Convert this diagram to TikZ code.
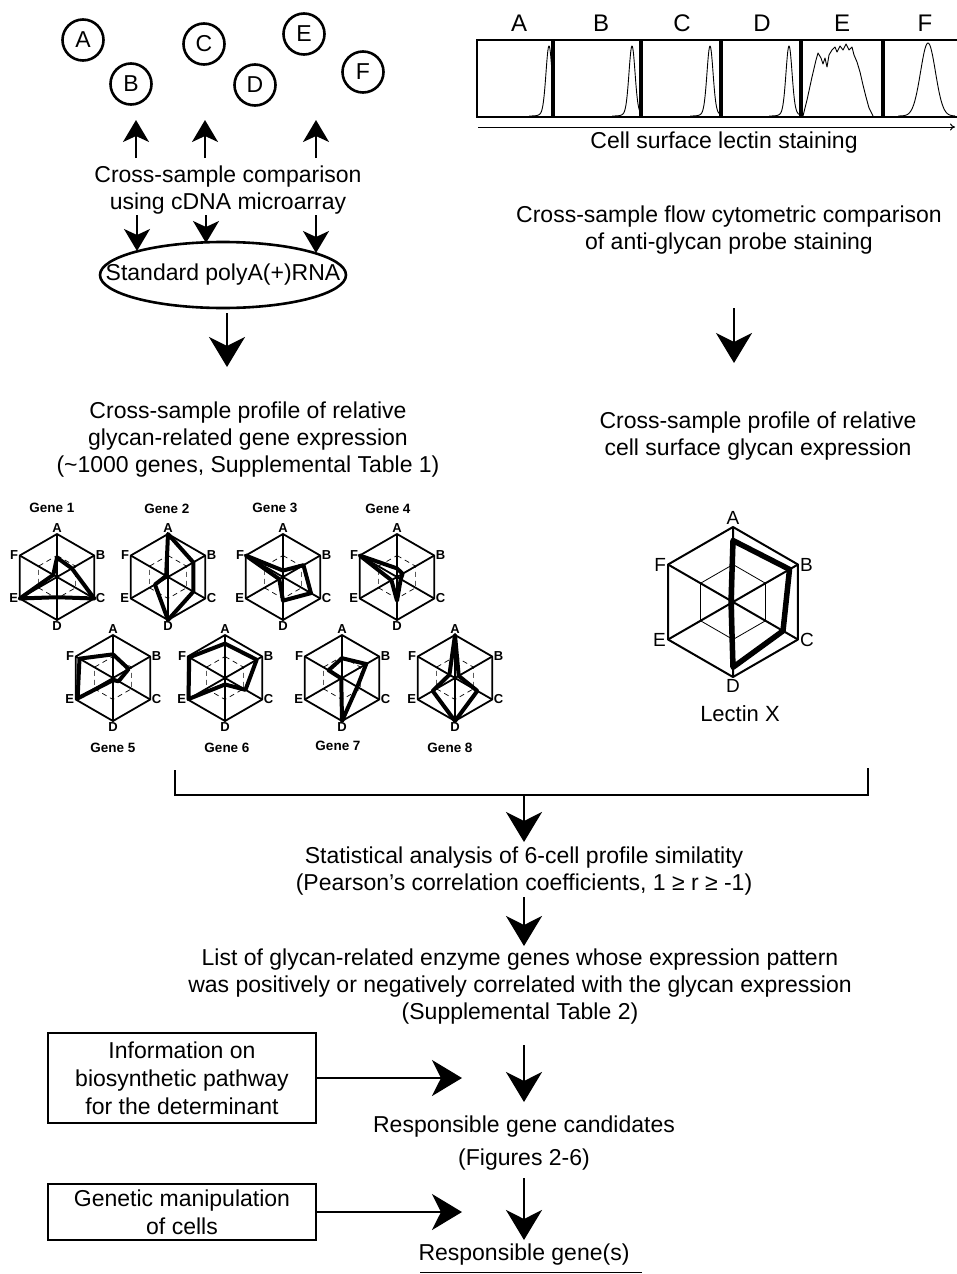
\documentclass[tikz,border=0pt]{standalone}
\usepackage{fontspec}
\setmainfont{Liberation Sans}
\usetikzlibrary{arrows.meta,shapes.geometric}
\newcommand\fsz[2]{\fontsize{#1}{#2}\selectfont}
\def\rr{43}
\tikzset{
  txt/.style={align=center, font=\fsz{23}{27}, inner sep=0pt},
  circ/.style={draw, circle, line width=2.6pt, minimum size=41pt, inner sep=0pt, font=\fsz{23}{26}},
  bigarr/.style={line width=2pt, -{Stealth[length=30pt,width=36pt,inset=9pt]}},
  smallarr/.style={line width=2pt, -{Stealth[length=22pt,width=26pt,inset=6pt]}},
  hexln/.style={line width=1.8pt, line join=round},
  innerhex/.style={line width=0.7pt, dash pattern=on 5pt off 4pt},
  dataln/.style={line width=4pt, line join=round},
  vlab/.style={font=\bfseries\fsz{13}{13}, inner sep=1.5pt},
  genelab/.style={font=\bfseries\fsz{13.5}{13.5}, inner sep=0pt},
  boxst/.style={draw, line width=2.4pt, align=center, font=\fsz{23}{28}, minimum width=268pt, inner sep=0pt},
  hist/.style={line width=0.9pt, line join=round},
  histlab/.style={font=\fsz{24}{24}, inner sep=0pt},
}
% #1 name, #2 x, #3 y, #4..#9 values for A..F
\newcommand\radar[9]{%
  \begin{scope}[shift={(#2,-#3)}]
    \draw[innerhex] (90:{\rr/2}) -- (30:{\rr/2}) -- (-30:{\rr/2}) -- (-90:{\rr/2}) -- (210:{\rr/2}) -- (150:{\rr/2}) -- cycle;
    \draw[hexln] (90:\rr) -- (30:\rr) -- (-30:\rr) -- (-90:\rr) -- (210:\rr) -- (150:\rr) -- cycle;
    \draw[hexln] (90:\rr) -- (-90:\rr) (30:\rr) -- (210:\rr) (-30:\rr) -- (150:\rr);
    \draw[dataln] (90:{#4*\rr}) -- (30:{#5*\rr}) -- (-30:{#6*\rr}) -- (-90:{#7*\rr}) -- (210:{#8*\rr}) -- (150:{#9*\rr}) -- cycle;
    \node[vlab, anchor=south] (#1A) at (90:\rr) {A};
    \node[vlab, anchor=west] (#1B) at (30:\rr) {B};
    \node[vlab, anchor=west] (#1C) at (-30:\rr) {C};
    \node[vlab, anchor=north] (#1D) at (-90:\rr) {D};
    \node[vlab, anchor=east] (#1E) at (210:\rr) {E};
    \node[vlab, anchor=east] (#1F) at (150:\rr) {F};
  \end{scope}}
\begin{document}
\begin{tikzpicture}[x=1pt,y=1pt]
\fill[white] (0,0) rectangle (956,-1274);
\useasboundingbox (0,0) rectangle (956,-1274);

% ---------- top left: samples ----------
\node[circ] (cA) at (83,-40) {A};
\node[circ] (cB) at (131,-84) {B};
\node[circ] (cC) at (204,-44) {C};
\node[circ] (cD) at (255,-85) {D};
\node[circ] (cE) at (304,-34) {E};
\node[circ] (cF) at (363,-72) {F};

\foreach \i/\xx in {1/136,2/205,3/316}{
  \coordinate (up\i s) at (\xx,-158);
  \coordinate (up\i e) at (\xx,-120);
  \draw[smallarr] (up\i s) -- (up\i e);
}
\node[txt] (cmp) at (228,-190) {Cross-sample comparison\\using cDNA microarray};
\foreach \i/\xx/\yy in {1/137/251,2/206/243,3/316/253}{
  \coordinate (dn\i s) at (\xx,-215);
  \coordinate (dn\i e) at (\xx,-\yy);
  \draw[smallarr] (dn\i s) -- (dn\i e);
}
\node[txt] (ell) at (223,-275) {Standard polyA(+)RNA};
\draw[line width=2.6pt] (ell.center) ellipse [x radius=123, y radius=33];
\coordinate (e1s) at (227,-313);
\coordinate (e1e) at (227,-367);
\draw[bigarr] (e1s) -- (e1e);
\node[txt] (prof1) at (248,-440) {Cross-sample profile of relative\\glycan-related gene expression\\(\textasciitilde1000 genes, Supplemental Table 1)};

% ---------- small radar charts ----------
\def\rr{43}
\radar{g1}{57}{577}{0.45}{0.4}{1.0}{0.47}{1.0}{0.1}
\radar{g2}{168}{577}{1.0}{0.68}{0.68}{1.0}{0.35}{0.05}
\radar{g3}{283}{577}{0.15}{0.55}{0.75}{0.55}{0.1}{1.0}
\radar{g4}{397}{577}{0.2}{0.15}{0.1}{0.55}{0.15}{1.0}
\radar{g5}{113}{678}{0.55}{0.42}{0.15}{0.05}{0.95}{0.9}
\radar{g6}{225}{678}{0.8}{0.85}{0.55}{0.15}{0.98}{0.96}
\radar{g7}{342}{678}{0.46}{0.65}{0.41}{1.0}{0.02}{0.36}
\radar{g8}{455}{678}{1.0}{0.1}{0.6}{1.0}{0.6}{0.15}
\node[genelab] (n1) at (52,-508) {Gene 1};
\node[genelab] (n2) at (167,-509) {Gene 2};
\node[genelab] (n3) at (275,-508) {Gene 3};
\node[genelab] (n4) at (388,-509) {Gene 4};
\node[genelab] (n5) at (113,-748) {Gene 5};
\node[genelab] (n6) at (227,-748) {Gene 6};
\node[genelab] (n7) at (338,-746) {Gene 7};
\node[genelab] (n8) at (450,-748) {Gene 8};

% ---------- top right: flow cytometry ----------
\node[histlab] (hA) at (519,-23) {A};
\node[histlab] (hB) at (601,-23) {B};
\node[histlab] (hC) at (682,-23) {C};
\node[histlab] (hD) at (762,-23) {D};
\node[histlab] (hE) at (842,-23) {E};
\node[histlab] (hF) at (925,-23) {F};
\draw[line width=2pt] (957,-40) -- (477,-40) -- (477,-117) -- (957,-117);
\foreach \xx in {553,641,721,801,883} \draw[line width=3.5pt] (\xx,-40) -- (\xx,-117);
\foreach \mu/\lo/\hi in {549/529/552,632/612/640,710/690/719,789/769/799}
  \draw[hist] plot[domain=\lo:\hi, samples=70, smooth] (\x, {-116+64*exp(-((\x-\mu)/4.2)^2)+6*exp(-((\x-\mu-0.5)/8)^2)});
\draw[hist] (803,-116) -- (807,-100) -- (812,-77) -- (816,-60) -- (818,-53) -- (821,-58) -- (823,-64) -- (825,-58) -- (827,-67) -- (829,-55) -- (832,-50) -- (835,-47) -- (837,-52) -- (840,-46) -- (843,-50) -- (846,-44) -- (849,-50) -- (852,-47) -- (854,-55) -- (857,-62) -- (860,-72) -- (863,-85) -- (866,-97) -- (869,-108) -- (873,-116);
\draw[hist] plot[domain=898:955, samples=80, smooth] (\x, {-116+73*exp(-((\x-928)/10.5)^2)});
\coordinate (axs) at (478,-127);
\coordinate (axe) at (955,-127);
\draw[line width=1pt, -{To[length=5pt,width=7pt]}] (axs) -- (axe);
\node[txt] (cell) at (724,-143) {Cell surface lectin staining};
\node[txt] (flow) at (729,-230) {Cross-sample flow cytometric comparison\\of anti-glycan probe staining};
\coordinate (r1s) at (734,-308);
\coordinate (r1e) at (734,-363);
\draw[bigarr] (r1s) -- (r1e);
\node[txt] (prof2) at (758,-436) {Cross-sample profile of relative\\cell surface glycan expression};

% ---------- big radar ----------
\begin{scope}[hexln/.style={line width=2pt, line join=round},
  innerhex/.style={line width=0.8pt},
  dataln/.style={line width=5.5pt, line join=round},
  vlab/.style={font=\fsz{19}{19}, inner sep=2pt}]
\def\rr{75}
\radar{lx}{733}{602}{0.82}{0.87}{0.77}{0.87}{0.03}{0.03}
\end{scope}
\node[font=\fsz{22}{22}, inner sep=0pt] (lect) at (740,-714) {Lectin X};

% ---------- bracket and lower flow ----------
\draw[line width=2pt] (175,-770) -- (175,-795) -- (868,-795) -- (868,-768);
\coordinate (brk) at (524,-795);
\coordinate (s1e) at (524,-842);
\draw[bigarr] (brk) -- (s1e);
\node[txt] (stat) at (524,-871) {Statistical analysis of 6-cell profile similatity\\(Pearson's correlation coefficients, 1 ≥ r ≥ -1)};
\coordinate (s2s) at (524,-897);
\coordinate (s2e) at (524,-946);
\draw[bigarr] (s2s) -- (s2e);
\node[txt] (list) at (520,-987) {List of glycan-related enzyme genes whose expression pattern\\was positively or negatively correlated with the glycan expression\\(Supplemental Table 2)};

\node[boxst, minimum height=90pt] (box1) at (182,-1078) {Information on\\biosynthetic pathway\\for the determinant};
\coordinate (h1e) at (462,-1078);
\draw[bigarr] (box1.east) -- (h1e);
\coordinate (d1s) at (524,-1045);
\coordinate (d1e) at (524,-1102);
\draw[bigarr] (d1s) -- (d1e);
\node[txt] (cand) at (524,-1143) {Responsible gene candidates\\[6pt](Figures 2-6)};

\node[boxst, minimum height=56pt] (box2) at (182,-1212) {Genetic manipulation\\of cells};
\coordinate (h2e) at (462,-1212);
\draw[bigarr] (box2.east) -- (h2e);
\coordinate (d2s) at (524,-1178);
\coordinate (d2e) at (524,-1240);
\draw[bigarr] (d2s) -- (d2e);
\node[txt] (resp) at (524,-1255) {Responsible gene(s)};
\draw[line width=1pt] (420,-1272) -- (642,-1272);
\end{tikzpicture}
\end{document}
